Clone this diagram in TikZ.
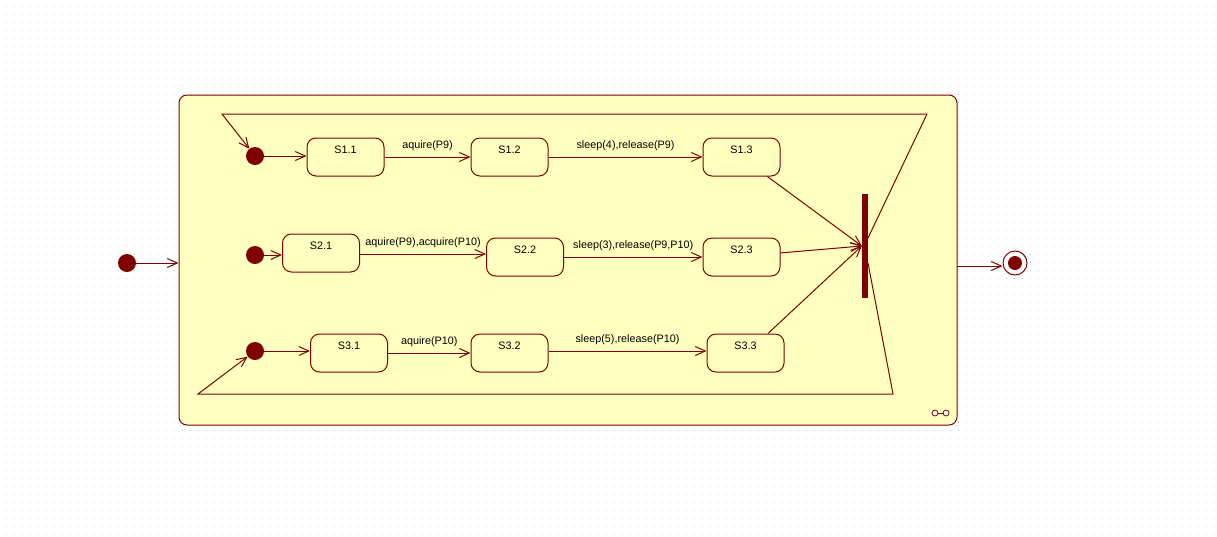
\documentclass[tikz,border=0pt]{standalone}
\usepackage{fontspec}
\setmainfont{Liberation Sans}
\usetikzlibrary{arrows.meta}
\definecolor{dred}{HTML}{800000}
\definecolor{sfill}{HTML}{FFFFC0}
\definecolor{gridc}{HTML}{C4C4C4}
\tikzset{
  lbl/.style={font=\fontsize{10.8}{13}\selectfont, text=black},
  statebox/.style={draw=dred, line width=1pt, fill=sfill, rounded corners=9pt,
    minimum width=77pt, inner xsep=0pt, inner ysep=4pt, text height=11pt, text depth=19pt, lbl},
  initst/.style={circle, fill=dred, minimum size=18pt, inner sep=0pt},
  trans/.style={draw=dred, line width=1pt, -{Straight Barb[length=10pt,width=9pt]}},
  tlabel/.style={lbl, midway, above=2.5pt},
  plain/.style={draw=dred, line width=1pt},
}
\begin{document}
\begin{tikzpicture}[x=1pt,y=-1pt]
\useasboundingbox (0,0) rectangle (1217,536);
% background grid
\foreach \r in {6,14,...,534}
  \draw[gridc, line width=1pt, dash pattern=on 1pt off 7pt] (6,\r) -- (1217,\r);
% composite state
\node[draw=dred, line width=1pt, fill=sfill, rounded corners=8pt, minimum width=778pt, minimum height=330pt, inner sep=0pt] (comp) at (568,260) {};
% outer initial & final
\node[initst] (I0) at (127,263) {};
\node[circle, draw=dred, line width=1pt, fill=white, minimum size=24pt, inner sep=0pt,
  path picture={\fill[dred] (path picture bounding box.center) circle (7pt);}] (F) at (1015,263) {};
\coordinate (cx) at (957,266);
\draw[trans] (I0) -- (comp.west |- I0);
\draw[trans] (cx) -- (F.west |- cx);
% inner initial states
\node[initst] (I1) at (255,156) {};
\node[initst] (I2) at (255,255) {};
\node[initst] (I3) at (255,351) {};
% states
\node[statebox] (S11) at (345.5,157) {S1.1};
\node[statebox] (S12) at (509.5,157) {S1.2};
\node[statebox] (S13) at (741.5,157) {S1.3};
\node[statebox] (S21) at (321,253) {S2.1};
\node[statebox] (S22) at (525,257) {S2.2};
\node[statebox] (S23) at (741.5,257) {S2.3};
\node[statebox] (S31) at (349,353) {S3.1};
\node[statebox] (S32) at (509.5,353) {S3.2};
\node[statebox] (S33) at (745.5,353) {S3.3};
% fork bar
\node[rectangle, fill=dred, minimum width=6pt, minimum height=104pt, inner sep=0pt] (bar) at (865,246) {};
% initial transitions
\draw[trans] (I1) -- (S11.west |- I1);
\draw[trans] (I2) -- (S21.west |- I2);
\draw[trans] (I3) -- (S31.west |- I3);
% row transitions
\draw[trans] (S11) -- node[tlabel] {aquire(P9)} (S12);
\draw[trans] (S12) -- node[tlabel] {sleep(4),release(P9)} (S13);
\draw[trans] (S21.east |- 0,254) -- node[tlabel] {aquire(P9),acquire(P10)} (S22.west |- 0,254);
\draw[trans] (S22) -- node[tlabel] {sleep(3),release(P9,P10)} (S23);
\draw[trans] (S31) -- node[tlabel] {aquire(P10)} (S32);
\draw[trans] (S32.east |- 0,351) -- node[tlabel] {sleep(5),release(P10)} (S33.west |- 0,351);
% joins into bar
\draw[trans] (S13.-37.7) -- (bar.west);
\draw[trans] (S23.6) -- (bar.west);
\draw[trans] (S33.41.5) -- (bar.west);
% loops back
\coordinate (u1) at (868,238);
\coordinate (u2) at (927,114);
\coordinate (u3) at (222,114);
\draw[trans] (u1) -- (u2) -- (u3) -- (I1);
\coordinate (d1) at (868,263);
\coordinate (d2) at (893,394);
\coordinate (d3) at (198,394);
\draw[trans] (d1) -- (d2) -- (d3) -- (I3);
% small icon
\node[circle, draw=dred, line width=0.8pt, fill=white, minimum size=6pt, inner sep=0pt] (k1) at (935,413) {};
\node[circle, draw=dred, line width=0.8pt, fill=white, minimum size=6pt, inner sep=0pt] (k2) at (946,413) {};
\draw[dred, line width=0.8pt] (k1) -- (k2);
\end{tikzpicture}
\end{document}
